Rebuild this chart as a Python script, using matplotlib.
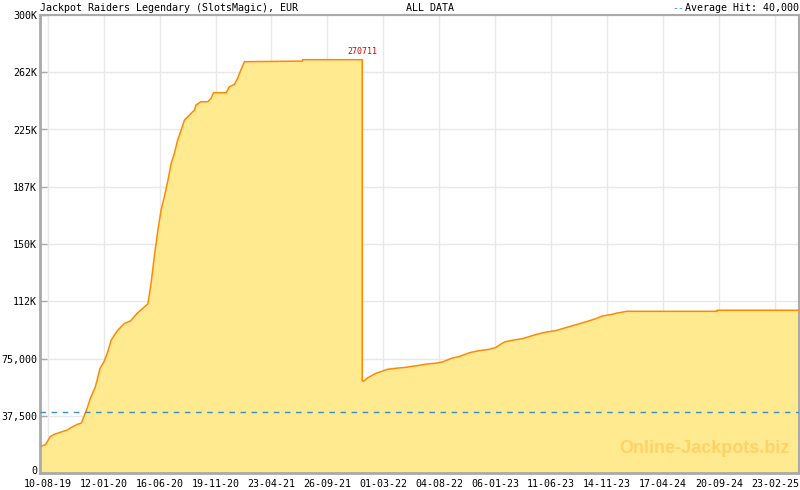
import numpy as np
import matplotlib
matplotlib.use("Agg")
import matplotlib.pyplot as plt
import matplotlib.dates as mdates
import matplotlib.transforms as mtransforms

# jackpot values
dates = [
    "2019-07-23", "2019-08-03", "2019-08-08", "2019-08-16", "2019-08-27",
    "2019-09-14", "2019-10-03", "2019-10-16", "2019-10-31", "2019-11-11",
    "2019-11-18", "2019-11-27", "2019-12-06", "2019-12-20", "2020-01-02",
    "2020-01-13", "2020-01-22", "2020-02-02", "2020-02-19", "2020-03-10",
    "2020-03-27", "2020-04-14", "2020-05-14", "2020-05-19", "2020-05-23",
    "2020-06-01", "2020-06-11", "2020-06-20", "2020-06-29", "2020-07-09",
    "2020-07-18", "2020-07-27", "2020-08-05", "2020-08-15", "2020-08-24",
    "2020-09-07", "2020-09-21", "2020-09-25", "2020-10-09", "2020-10-28",
    "2020-11-06", "2020-11-13", "2020-12-18", "2020-12-27", "2021-01-10",
    "2021-01-19", "2021-01-28", "2021-02-07", "2021-07-19", "2021-07-19",
    "2022-01-01", "2022-01-01", "2022-01-06", "2022-01-16", "2022-01-25",
    "2022-02-08", "2022-02-22", "2022-03-12", "2022-04-04", "2022-05-02",
    "2022-05-21", "2022-06-08", "2022-07-01", "2022-07-24", "2022-08-12",
    "2022-08-26", "2022-09-09", "2022-09-27", "2022-10-16", "2022-10-30",
    "2022-11-22", "2022-12-20", "2023-01-07", "2023-01-26", "2023-02-04",
    "2023-02-27", "2023-03-23", "2023-04-10", "2023-05-03", "2023-05-26",
    "2023-06-23", "2023-07-16", "2023-08-13", "2023-09-05", "2023-09-24",
    "2023-10-12", "2023-10-31", "2023-11-23", "2023-12-12", "2024-01-08",
    "2024-09-15", "2024-09-15", "2025-05-01",
]
values = [
    17700, 18500, 20500, 23800, 25300,
    26700, 28200, 30100, 31900, 32700,
    36900, 42400, 48900, 56500, 68600,
    72900, 78400, 87100, 93200, 98000,
    99600, 104600, 110700, 118000, 124300,
    141700, 159200, 172300, 181000, 191900,
    202900, 209400, 218100, 224700, 231200,
    234500, 237800, 241000, 243200, 243200,
    245400, 249100, 249100, 253000, 254600,
    258500, 264000, 269400, 269800, 270711,
    270711, 60300, 60300, 62400, 63500,
    65300, 66400, 67900, 68600, 69200,
    69900, 70500, 71400, 71900, 72700,
    74000, 75300, 76200, 77900, 79000,
    80100, 81000, 82100, 85000, 86000,
    87100, 88000, 89300, 90900, 92200,
    93200, 94800, 96700, 98300, 99600,
    101000, 102800, 103700, 104800, 105900,
    105900, 106600, 106600,
]
max_value = 270711
max_date = "2022-01-01"
average_hit = 40000

yticks = [0, 37500, 75000, 112500, 150000, 187500, 225000, 262500, 300000]
ytick_labels = ["0", "37,500", "75,000", "112K", "150K", "187K", "225K", "262K", "300K"]
xtick_dates = ["2019-08-10", "2020-01-12", "2020-06-16", "2020-11-19", "2021-04-23",
               "2021-09-26", "2022-03-01", "2022-08-04", "2023-01-06", "2023-06-11",
               "2023-11-14", "2024-04-17", "2024-09-20", "2025-02-23"]
xtick_labels = ["10-08-19", "12-01-20", "16-06-20", "19-11-20", "23-04-21",
                "26-09-21", "01-03-22", "04-08-22", "06-01-23", "11-06-23",
                "14-11-23", "17-04-24", "20-09-24", "23-02-25"]

mono = "DejaVu Sans Mono"
fs = 7.2
frame = "#aaaaaa"
blue = "#3a8ec8"

x = mdates.datestr2num(dates)
xt = mdates.datestr2num(xtick_dates)

fig = plt.figure(figsize=(8, 4.9), dpi=100)
ax = fig.add_axes([40 / 800, 17 / 490, 759 / 800, 458 / 490])

ax.fill_between(x, values, 0, color="#ffea90", lw=0, zorder=2)
ax.plot(x, values, color="#ff8800", lw=1.1, zorder=3)
ax.axhline(average_hit, color=blue, lw=1, ls=(0, (4, 4)), zorder=4)

ax.annotate(str(max_value), (mdates.datestr2num(max_date), max_value),
            xytext=(0, 3), textcoords="offset points", ha="center", va="bottom",
            color="#dd0000", fontsize=6, family=mono)

ax.set_xlim(x[0], x[-1])
ax.set_ylim(0, 300000)
ax.set_yticks(yticks)
ax.set_yticklabels(ytick_labels, family=mono, fontsize=fs)
ax.set_xticks(xt)
ax.set_xticklabels(xtick_labels, family=mono, fontsize=fs)
step = (xt[-1] - xt[0]) / 13 / 7
ax.set_xticks(np.arange(xt[0] - step, x[-1], step), minor=True)

ax.grid(True, color="#e8e8e8", lw=1, zorder=0)
ax.set_axisbelow(True)
ax.tick_params(axis="both", which="major", direction="in", length=5, width=1,
               color=frame, pad=2)
ax.tick_params(axis="x", which="major", pad=4)
ax.tick_params(axis="x", which="minor", direction="in", length=3, width=1, color=frame)
for side in ["left", "bottom"]:
    ax.spines[side].set_color(frame)
    ax.spines[side].set_linewidth(2)
for side in ["top", "right"]:
    ax.spines[side].set_color(frame)
    ax.spines[side].set_linewidth(1.5)

# nudge the "0" label up so it clears the first date label
zero_lab = ax.get_yticklabels()[0]
zero_lab.set_transform(zero_lab.get_transform() +
                       mtransforms.ScaledTranslation(0, 3 / 100, fig.dpi_scale_trans))

fig.text(40 / 800, 1 - 8 / 490, "Jackpot Raiders Legendary (SlotsMagic), EUR",
         family=mono, fontsize=fs, va="center", ha="left")
fig.text(430 / 800, 1 - 8 / 490, "ALL DATA", family=mono, fontsize=fs,
         va="center", ha="center")
fig.text(799 / 800, 1 - 8 / 490, "Average Hit: 40,000", family=mono, fontsize=fs,
         va="center", ha="right")
fig.text(684 / 800, 1 - 8 / 490, "--", family=mono, fontsize=fs, va="center",
         ha="right", color=blue)
ax.text(0.987, 0.035, "Online-Jackpots.biz", transform=ax.transAxes,
        family="Liberation Sans", weight="bold", fontsize=13, color="#ffd266",
        ha="right", va="bottom", zorder=5)

fig.savefig("out.png", dpi=100)
